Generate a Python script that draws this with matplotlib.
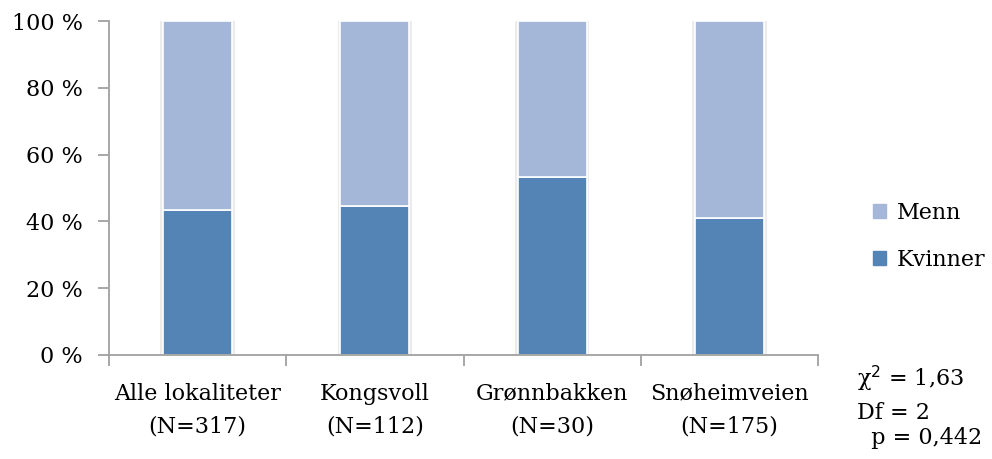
import matplotlib
matplotlib.use("Agg")
import matplotlib.pyplot as plt
from matplotlib.patches import Patch
import numpy as np

categories = ["Alle lokaliteter\n(N=317)", "Kongsvoll\n(N=112)",
              "Grønnbakken\n(N=30)", "Snøheimveien\n(N=175)"]
kvinner = [43.5, 44.6, 53.3, 41.1]
menn = [56.5, 55.4, 46.7, 58.9]
yticks = [0, 20, 40, 60, 80, 100]
stats_lines = ["χ$^2$ = 1,63", "Df = 2", "  p = 0,442"]

c_kv = "#5483B6"
c_me = "#A4B7D8"
axis_grey = "#A0A0A0"

plt.rcParams["font.family"] = ["DejaVu Serif"]

fig = plt.figure(figsize=(9.92, 4.59), dpi=100)
ax = fig.add_axes([0.1099, 0.2266, 0.7147, 0.7276])

x = np.arange(len(categories))
w = 0.39

# soft shadow behind each column
tot = np.array(kvinner) + np.array(menn)
ax.bar(x, tot, width=w + 0.03, color="#EBEBEB", edgecolor="none", zorder=1)
ax.bar(x, kvinner, width=w, color=c_kv, edgecolor="white", linewidth=1.2, zorder=2)
ax.bar(x, menn, bottom=kvinner, width=w, color=c_me, edgecolor="white", linewidth=1.2, zorder=2)

ax.set_xlim(-0.5, len(categories) - 0.5)
ax.set_ylim(0, 100)
ax.set_yticks(yticks)
ax.set_yticklabels([f"{v} %" for v in yticks], fontsize=16)
ax.set_xticks(np.arange(-0.5, len(categories), 1.0))
ax.set_xticklabels([])
ax.set_xticks(x, minor=True)
ax.set_xticklabels(categories, minor=True, fontsize=16, linespacing=1.65)
ax.tick_params(axis="x", which="minor", length=0, pad=20)
ax.tick_params(axis="x", which="major", length=8, color=axis_grey, width=1.3)
ax.tick_params(axis="y", length=8, color=axis_grey, width=1.3, pad=11)

for s in ["top", "right"]:
    ax.spines[s].set_visible(False)
for s in ["left", "bottom"]:
    ax.spines[s].set_color(axis_grey)
    ax.spines[s].set_linewidth(1.3)

handles = [Patch(color=c_me, label="Menn"), Patch(color=c_kv, label="Kvinner")]
fig.legend(handles=handles, loc="center left", bbox_to_anchor=(0.860, 0.485),
           frameon=False, fontsize=16, handlelength=0.6, handleheight=0.6,
           handletextpad=0.45, labelspacing=1.15)

ys = [0.159, 0.087, 0.033]
for t, yy in zip(stats_lines, ys):
    fig.text(0.864, yy, t, fontsize=16, va="baseline", ha="left")

fig.savefig("out.png", dpi=100)
